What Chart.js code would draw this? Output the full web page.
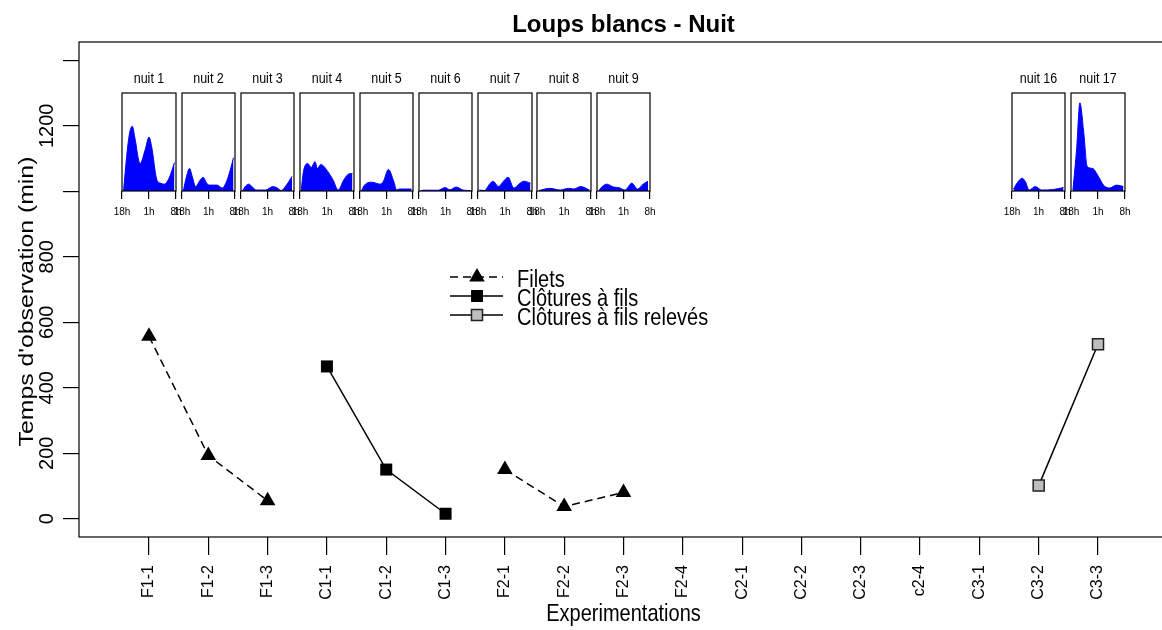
<!DOCTYPE html>
<html>
<head>
<meta charset="utf-8">
<title>Loups blancs - Nuit</title>
<script src="https://cdn.jsdelivr.net/npm/chart.js@4.4.0/dist/chart.umd.min.js"></script>
<style>
  html, body { margin: 0; padding: 0; background: #fff; overflow: hidden; }
  #wrap { position: relative; width: 1162px; height: 630px; overflow: hidden; }
  #mainChart { position: absolute; left: 0; top: 0; }
  .inset { position: absolute; }
</style>
</head>
<body>
<div id="wrap">
  <canvas id="mainChart" width="1180" height="630"></canvas>
</div>
<script>
// ---- data ----
const categories = ["F1-1", "F1-2", "F1-3", "C1-1", "C1-2", "C1-3", "F2-1", "F2-2", "F2-3",
  "F2-4", "C2-1", "C2-2", "C2-3", "c2-4", "C3-1", "C3-2", "C3-3"];
const filets = [557, 193, 55, null, null, null, 150, 37, 80, null, null, null, null, null, null, null, null];
const clotures = [null, null, null, 465, 150, 15, null, null, null, null, null, null, null, null, null, null, null];
const cloturesReleves = [null, null, null, null, null, null, null, null, null, null, null, null, null, null, null, 101, 533];

const yTicks = [0, 200, 400, 600, 800, 1000, 1200, 1400];
const yTickLabels = ["0", "200", "400", "600", "800", "", "1200", ""];

const mainTitle = "Loups blancs - Nuit";
const xTitle = "Experimentations";
const yTitle = "Temps d'observation (min)";

// small density plots per night: [hour since 18h, relative height]
const hourTicks = [0, 7, 14];
const hourLabels = ["18h", "1h", "8h"];
const insetNames = ["nuit 1", "nuit 2", "nuit 3", "nuit 4", "nuit 5", "nuit 6", "nuit 7", "nuit 8", "nuit 9", "nuit 16", "nuit 17"];
const insetSlots = [0, 1, 2, 3, 4, 5, 6, 7, 8, 15, 16];
const nuit1 = [[0.4, 0], [1.2, 0.35], [2.0, 0.6], [2.7, 0.66], [3.3, 0.55], [4.7, 0.28], [6.0, 0.42], [7.0, 0.55], [7.7, 0.45], [9.0, 0.12], [10.0, 0.08], [11.0, 0.07], [12.3, 0.14], [13.6, 0.29]];
const nuit2 = [[0.35, 0], [1.2, 0.15], [2.0, 0.23], [2.7, 0.15], [3.6, 0.045], [4.6, 0.1], [5.6, 0.14], [6.5, 0.08], [7.3, 0.06], [9.3, 0.06], [10.6, 0.03], [11.8, 0.1], [13.0, 0.25], [13.6, 0.34]];
const nuit3 = [[0.4, 0], [1.2, 0.05], [2.1, 0.07], [3.0, 0.04], [4.1, 0.01], [6.5, 0.01], [8.4, 0.045], [9.6, 0.03], [10.6, 0.005], [12.0, 0.06], [13.5, 0.15]];
const nuit4 = [[0.3, 0], [0.9, 0.2], [2.0, 0.28], [2.9, 0.24], [3.9, 0.3], [4.5, 0.23], [5.4, 0.27], [7.2, 0.2], [8.6, 0.11], [9.9, 0.01], [11.3, 0.11], [12.5, 0.17], [13.6, 0.18]];
const nuit5 = [[0.4, 0], [1.0, 0.05], [1.8, 0.08], [3.1, 0.09], [5.3, 0.07], [6.2, 0.1], [7.5, 0.22], [8.9, 0.1], [9.7, 0.01], [10.4, 0.02], [13.6, 0.02]];
const nuit6 = [[0.4, 0], [1.0, 0.008], [5.1, 0.008], [6.9, 0.035], [8.2, 0.012], [9.8, 0.04], [11.8, 0.008], [13.6, 0.005]];
const nuit7 = [[0.4, 0.01], [1.7, 0.005], [3.0, 0.07], [3.9, 0.1], [5.3, 0.045], [6.6, 0.1], [7.8, 0.14], [9.3, 0.03], [10.6, 0.07], [11.9, 0.1], [13.6, 0.08]];
const nuit8 = [[0.5, 0.005], [3.3, 0.027], [6.0, 0.01], [8.2, 0.027], [9.5, 0.02], [11.3, 0.045], [13.6, 0.01]];
const nuit9 = [[0.5, 0.005], [1.5, 0.05], [2.6, 0.07], [4.4, 0.04], [5.7, 0.035], [7.4, 0.01], [9.2, 0.08], [10.7, 0.02], [12.2, 0.07], [13.5, 0.1]];
const nuit16 = [[0.4, 0.02], [1.5, 0.09], [2.7, 0.13], [3.6, 0.09], [4.5, 0.01], [6.2, 0.045], [7.8, 0.01], [10.9, 0.015], [13.6, 0.035]];
const nuit17 = [[0.5, 0.01], [1.5, 0.45], [2.3, 0.9], [3.3, 0.6], [4.2, 0.25], [5.6, 0.23], [7.1, 0.15], [8.4, 0.06], [10.0, 0.03], [11.8, 0.06], [13.6, 0.045]];
const insetCurves = [nuit1, nuit2, nuit3, nuit4, nuit5, nuit6, nuit7, nuit8, nuit9, nuit16, nuit17];

// ---- look ----
const SANS = '"Liberation Sans", Arial, sans-serif';
const STRETCH = 1.24; // the reference text is drawn taller than wide
const INSET_Y0 = 1000, INSET_Y1 = 1300, INSET_HALF = 0.45;

const toPoints = (arr) => arr.map((v, i) => ({ x: i, y: v }));

// text helper: optional rotation, optional scale along x / y
function drawText(ctx, text, x, y, opt) {
  ctx.save();
  ctx.translate(x, y);
  if (opt.rotate) ctx.rotate(opt.rotate);
  ctx.scale(opt.sx || 1, opt.sy || 1);
  ctx.font = opt.font;
  ctx.fillStyle = "#000";
  ctx.textAlign = opt.align || "center";
  ctx.textBaseline = "middle";
  ctx.fillText(text, 0, 0);
  ctx.restore();
}

// frame around the plot region (R style box)
const boxPlugin = {
  id: "rbox",
  afterDraw(chart) {
    const { ctx, chartArea: a } = chart;
    ctx.save();
    ctx.strokeStyle = "#000";
    ctx.lineWidth = 1.2;
    ctx.strokeRect(a.left, a.top, a.right - a.left, a.bottom - a.top);
    ctx.restore();
  },
};

// y tick labels parallel to the axis, plus both axis titles
const axisTextPlugin = {
  id: "axistext",
  afterDraw(chart) {
    const { ctx, chartArea: a } = chart;
    const ys = chart.scales.y;
    yTicks.forEach((v, i) => {
      if (!yTickLabels[i]) return;
      drawText(ctx, yTickLabels[i], ys.right - 32, ys.getPixelForValue(v),
        { font: "20px " + SANS, rotate: -Math.PI / 2 });
    });
    drawText(ctx, xTitle, (a.left + a.right) / 2, 614, { font: "20px " + SANS, sy: STRETCH });
    drawText(ctx, yTitle, 27, (a.top + a.bottom) / 2 + 12,
      { font: "21px " + SANS, rotate: -Math.PI / 2, sx: 1.18 });
  },
};

// legend in the R way: line + marker + text
const legendPlugin = {
  id: "rlegend",
  afterDraw(chart) {
    const { ctx } = chart;
    const x0 = 450, x1 = 503, xm = 477, xt = 517, yStart = 277, step = 19;
    chart.data.datasets.forEach((ds, i) => {
      const y = yStart + i * step;
      ctx.save();
      ctx.strokeStyle = "#000";
      ctx.lineWidth = 1.5;
      ctx.setLineDash(ds.borderDash || []);
      ctx.beginPath();
      ctx.moveTo(x0, y);
      ctx.lineTo(x1, y);
      ctx.stroke();
      ctx.setLineDash([]);
      ctx.fillStyle = ds.pointBackgroundColor;
      ctx.strokeStyle = ds.pointBorderColor;
      ctx.beginPath();
      if (ds.pointStyle === "triangle") {
        const r = ds.pointRadius;
        ctx.moveTo(xm, y - r);
        ctx.lineTo(xm + r * 0.866, y + r / 2);
        ctx.lineTo(xm - r * 0.866, y + r / 2);
        ctx.closePath();
        ctx.fill();
      } else {
        const s = ds.pointRadius * Math.SQRT1_2;
        ctx.rect(xm - s, y - s, 2 * s, 2 * s);
        ctx.fill();
        if (ds.pointBorderWidth > 0) {
          ctx.lineWidth = ds.pointBorderWidth;
          ctx.stroke();
        }
      }
      ctx.restore();
      drawText(ctx, ds.label, xt, y + 3, { font: "20px " + SANS, sy: STRETCH, align: "left" });
    });
  },
};

// ---- main chart ----
const mainChart = new Chart(document.getElementById("mainChart"), {
  type: "line",
  data: {
    datasets: [
      {
        label: "Filets",
        data: toPoints(filets),
        borderColor: "#000",
        borderWidth: 1.5,
        borderDash: [8, 5],
        pointStyle: "triangle",
        pointRadius: 9,
        pointBackgroundColor: "#000",
        pointBorderColor: "#000",
        pointBorderWidth: 0,
        spanGaps: false,
      },
      {
        label: "Clôtures à fils",
        data: toPoints(clotures),
        borderColor: "#000",
        borderWidth: 1.5,
        pointStyle: "rect",
        pointRadius: 8.5,
        pointBackgroundColor: "#000",
        pointBorderColor: "#000",
        pointBorderWidth: 0,
        spanGaps: false,
      },
      {
        label: "Clôtures à fils relevés",
        data: toPoints(cloturesReleves),
        borderColor: "#000",
        borderWidth: 1.5,
        pointStyle: "rect",
        pointRadius: 7.8,
        pointBackgroundColor: "#bebebe",
        pointBorderColor: "#222",
        pointBorderWidth: 1.5,
        spanGaps: false,
      },
    ],
  },
  options: {
    responsive: false,
    animation: false,
    events: [],
    layout: { padding: { left: 0, right: 12, top: 0, bottom: 0 } },
    plugins: {
      legend: { display: false },
      tooltip: { enabled: false },
      title: {
        display: true,
        fullSize: false,
        text: mainTitle,
        color: "#000",
        font: { family: SANS, size: 24, weight: "bold", lineHeight: 1.2 },
        padding: { top: 10.6, bottom: 2.6 },
      },
    },
    scales: {
      x: {
        type: "linear",
        min: -1.18,
        max: 17.18,
        afterBuildTicks: (s) => { s.ticks = categories.map((_, i) => ({ value: i })); },
        afterFit: (s) => { s.height = 93; },
        ticks: {
          callback: (v) => categories[v] ?? "",
          color: "#000",
          font: { family: SANS, size: 16 },
          minRotation: 90,
          maxRotation: 90,
          autoSkip: false,
          padding: 10,
        },
        grid: { drawOnChartArea: false, color: "#000", lineWidth: 1.2, tickLength: 18 },
        border: { display: false },
      },
      y: {
        min: -56,
        max: 1456,
        afterBuildTicks: (s) => { s.ticks = yTicks.map((v) => ({ value: v })); },
        afterFit: (s) => { s.width = 79; },
        ticks: { display: false },
        grid: { drawOnChartArea: false, color: "#000", lineWidth: 1.2, tickLength: 16 },
        border: { display: false },
      },
    },
  },
  plugins: [boxPlugin, axisTextPlugin, legendPlugin],
});

// ---- night insets, placed with the main chart's own scales ----
const xs = mainChart.scales.x;
const ys = mainChart.scales.y;
const PAD = 16, TITLE_H = 22, AXIS_H = 30;
const wrap = document.getElementById("wrap");

// inset title above its box
const insetTitlePlugin = {
  id: "insettitle",
  afterDraw(chart) {
    const a = chart.chartArea;
    drawText(chart.ctx, chart.options.insetName, (a.left + a.right) / 2, a.top - 14,
      { font: "12.5px " + SANS, sy: STRETCH });
  },
};

insetCurves.forEach((curve, k) => {
  const slot = insetSlots[k];
  const left = Math.round(xs.getPixelForValue(slot - INSET_HALF));
  const right = Math.round(xs.getPixelForValue(slot + INSET_HALF));
  const top = Math.round(ys.getPixelForValue(INSET_Y1));
  const bottom = Math.round(ys.getPixelForValue(INSET_Y0));

  const canvas = document.createElement("canvas");
  canvas.className = "inset";
  canvas.width = right - left + 2 * PAD;
  canvas.height = bottom - top + TITLE_H + AXIS_H;
  canvas.style.left = left - PAD + "px";
  canvas.style.top = top - TITLE_H + "px";
  wrap.appendChild(canvas);

  new Chart(canvas, {
    type: "line",
    data: {
      datasets: [
        {
          data: curve.map(([x, y]) => ({ x, y })),
          fill: "origin",
          backgroundColor: "#0000ff",
          borderColor: "#0000ff",
          borderWidth: 1,
          pointRadius: 0,
          cubicInterpolationMode: "monotone",
        },
      ],
    },
    options: {
      insetName: insetNames[k],
      responsive: false,
      animation: false,
      events: [],
      layout: { padding: { left: PAD, right: PAD, top: TITLE_H, bottom: 0 } },
      plugins: {
        legend: { display: false },
        tooltip: { enabled: false },
        title: { display: false },
      },
      scales: {
        x: {
          type: "linear",
          min: 0,
          max: 14,
          afterBuildTicks: (s) => { s.ticks = hourTicks.map((v) => ({ value: v })); },
          afterFit: (s) => { s.height = AXIS_H; },
          ticks: {
            callback: (v) => hourLabels[hourTicks.indexOf(v)],
            color: "#000",
            font: { family: SANS, size: 10 },
            maxRotation: 0,
            autoSkip: false,
            padding: 7,
          },
          grid: { drawOnChartArea: false, color: "#000", lineWidth: 1.2, tickLength: 8 },
          border: { display: false },
        },
        y: { display: false, min: 0, max: 1 },
      },
    },
    plugins: [boxPlugin, insetTitlePlugin],
  });
});
</script>
</body>
</html>
